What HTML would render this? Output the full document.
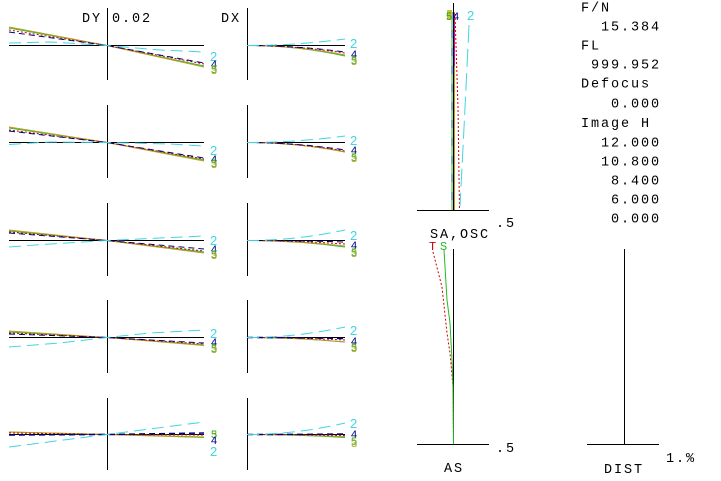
<!DOCTYPE html>
<html>
<head>
<meta charset="utf-8">
<style>
html,body{margin:0;padding:0;background:#fff;}
svg{display:block;}
.t{font-family:"Liberation Mono",monospace;font-size:13.5px;letter-spacing:1.9px;fill:#000;}
.n{font-family:"Liberation Sans",sans-serif;}
</style>
</head>
<body>
<svg width="721" height="481" viewBox="0 0 721 481" xmlns="http://www.w3.org/2000/svg">
<rect width="721" height="481" fill="#fff"/>

<g stroke="#000" stroke-width="1" shape-rendering="crispEdges">
  <line x1="107.5" y1="8" x2="107.5" y2="80"/>
  <line x1="9" y1="45.5" x2="204" y2="45.5"/>
  <line x1="247.5" y1="8" x2="247.5" y2="80"/>
  <line x1="247" y1="45.5" x2="345" y2="45.5"/>

  <line x1="107.5" y1="105" x2="107.5" y2="178"/>
  <line x1="9" y1="142.5" x2="204" y2="142.5"/>
  <line x1="247.5" y1="105" x2="247.5" y2="178"/>
  <line x1="247" y1="142.5" x2="345" y2="142.5"/>

  <line x1="107.5" y1="203" x2="107.5" y2="276"/>
  <line x1="9" y1="240.5" x2="204" y2="240.5"/>
  <line x1="247.5" y1="203" x2="247.5" y2="276"/>
  <line x1="247" y1="240.5" x2="345" y2="240.5"/>

  <line x1="107.5" y1="300" x2="107.5" y2="373"/>
  <line x1="9" y1="337.5" x2="204" y2="337.5"/>
  <line x1="247.5" y1="300" x2="247.5" y2="373"/>
  <line x1="247" y1="337.5" x2="345" y2="337.5"/>

  <line x1="107.5" y1="398" x2="107.5" y2="470"/>
  <line x1="9" y1="434.5" x2="204" y2="434.5"/>
  <line x1="247.5" y1="398" x2="247.5" y2="470"/>
  <line x1="247" y1="434.5" x2="345" y2="434.5"/>

  <line x1="453.5" y1="3" x2="453.5" y2="210"/>
  <line x1="417" y1="210.5" x2="489" y2="210.5"/>
  <line x1="453.5" y1="249" x2="453.5" y2="444"/>
  <line x1="417" y1="444.5" x2="489" y2="444.5"/>
  <line x1="624.5" y1="249" x2="624.5" y2="444"/>
  <line x1="587" y1="444.5" x2="659" y2="444.5"/>
</g>

<g fill="none" stroke-width="1">
  <polyline points="9,28 107,45.5 204,66" stroke="#33bb33"/>
  <polyline points="9,27 107,45.5 204,67" stroke="#b89a20"/>
  <polyline points="9,30 107,45.5 204,64" stroke="#cc0000" stroke-dasharray="2,2"/>
  <polyline points="9,32 107,45.5 204,63" stroke="#000080" stroke-dasharray="6,4"/>
  <polyline points="9,43 50,42 107,45.5 160,50 204,52" stroke="#3fd6e3" stroke-dasharray="12,6"/>

  <polyline points="9,128 107,142.5 204,160" stroke="#33bb33"/>
  <polyline points="9,127 107,142.5 204,161" stroke="#b89a20"/>
  <polyline points="9,130 107,142.5 204,159" stroke="#cc0000" stroke-dasharray="2,2"/>
  <polyline points="9,131 107,142.5 204,158" stroke="#000080" stroke-dasharray="6,4"/>
  <polyline points="9,144.5 50,142 107,142.5 170,144 204,146" stroke="#3fd6e3" stroke-dasharray="12,6"/>

  <polyline points="9,231 107,240.5 204,252" stroke="#33bb33"/>
  <polyline points="9,230 107,240.5 204,253" stroke="#b89a20"/>
  <polyline points="9,232 107,240.5 204,251" stroke="#cc0000" stroke-dasharray="2,2"/>
  <polyline points="9,233 107,240.5 204,249" stroke="#000080" stroke-dasharray="6,4"/>
  <polyline points="9,247 50,244 107,240.5 160,238 204,236" stroke="#3fd6e3" stroke-dasharray="12,6"/>

  <polyline points="9,332 107,337.5 204,345" stroke="#33bb33"/>
  <polyline points="9,331 107,337.5 204,345.5" stroke="#b89a20"/>
  <polyline points="9,333 107,337.5 204,344" stroke="#cc0000" stroke-dasharray="2,2"/>
  <polyline points="9,334 107,337.5 204,343" stroke="#000080" stroke-dasharray="6,4"/>
  <polyline points="9,347 60,343 107,337.5 150,333 204,330" stroke="#3fd6e3" stroke-dasharray="12,6"/>

  <polyline points="9,432 107,434.5 204,437" stroke="#33bb33"/>
  <polyline points="9,432 107,434.5 204,437.5" stroke="#b89a20"/>
  <polyline points="9,433 107,434.5 204,435" stroke="#cc0000" stroke-dasharray="2,2"/>
  <polyline points="9,435 107,434.5 204,433" stroke="#000080" stroke-dasharray="6,4" stroke-width="1.5"/>
  <polyline points="9,447 107,434.5 204,422" stroke="#3fd6e3" stroke-dasharray="12,6"/>
</g>

<g fill="none" stroke-width="1">
  <path d="M247,45.5 Q296,45.5 345,56" stroke="#33bb33"/>
  <path d="M247,45.5 Q296,45.5 345,55" stroke="#b89a20"/>
  <path d="M247,45.5 Q296,45.5 345,53" stroke="#cc0000" stroke-dasharray="2,2"/>
  <path d="M247,45.5 Q296,45.5 345,52" stroke="#000080" stroke-dasharray="6,4"/>
  <path d="M247,45.5 Q296,45.5 345,39" stroke="#3fd6e3" stroke-dasharray="12,6"/>

  <path d="M247,142.5 Q296,142.5 345,152" stroke="#33bb33"/>
  <path d="M247,142.5 Q296,142.5 345,152" stroke="#b89a20"/>
  <path d="M247,142.5 Q296,142.5 345,151" stroke="#cc0000" stroke-dasharray="2,2"/>
  <path d="M247,142.5 Q296,142.5 345,150" stroke="#000080" stroke-dasharray="6,4"/>
  <path d="M247,142.5 Q296,142.5 345,136" stroke="#3fd6e3" stroke-dasharray="12,6"/>

  <path d="M247,240.5 Q296,240.5 345,247" stroke="#33bb33"/>
  <path d="M247,240.5 Q296,240.5 345,246" stroke="#b89a20"/>
  <path d="M247,240.5 Q296,240.5 345,244" stroke="#cc0000" stroke-dasharray="2,2"/>
  <path d="M247,240.5 Q296,240.5 345,242" stroke="#000080" stroke-dasharray="6,4"/>
  <path d="M247,240.5 Q296,240.5 345,230" stroke="#3fd6e3" stroke-dasharray="12,6"/>

  <path d="M247,337.5 Q296,337.5 345,342" stroke="#33bb33"/>
  <path d="M247,337.5 Q296,337.5 345,342" stroke="#b89a20"/>
  <path d="M247,337.5 Q296,337.5 345,340" stroke="#cc0000" stroke-dasharray="2,2"/>
  <path d="M247,337.5 Q296,337.5 345,338.5" stroke="#000080" stroke-dasharray="6,4" stroke-width="1.5"/>
  <path d="M247,337.5 Q296,337.5 345,327" stroke="#3fd6e3" stroke-dasharray="12,6"/>

  <path d="M247,434.5 Q296,434.5 345,437.5" stroke="#33bb33"/>
  <path d="M247,434.5 Q296,434.5 345,436.5" stroke="#b89a20"/>
  <path d="M247,434.5 Q296,434.5 345,435.5" stroke="#cc0000" stroke-dasharray="2,2"/>
  <path d="M247,434.5 Q296,434.5 345,434" stroke="#000080" stroke-dasharray="6,4" stroke-width="1.5"/>
  <path d="M247,434.5 Q296,434.5 345,423" stroke="#3fd6e3" stroke-dasharray="12,6"/>
</g>

<g fill="none" stroke-width="1">
  <line x1="452" y1="12" x2="452" y2="210" stroke="#33bb33"/>
  <line x1="452" y1="12" x2="452" y2="210" stroke="#006060" stroke-dasharray="8,10"/>
  <line x1="454.5" y1="12" x2="454.5" y2="210" stroke="#d09030"/>
  <path d="M455,14 L458,107 L459.5,210" stroke="#cc0000" stroke-dasharray="2,2"/>
  <line x1="454.5" y1="13" x2="454.5" y2="66" stroke="#d01090"/>
  <line x1="453.5" y1="14" x2="453.5" y2="75" stroke="#000080" stroke-dasharray="5,4"/>
  <path d="M469,25 Q465,110 460,206" stroke="#3fd6e3" stroke-dasharray="18,6"/>
</g>

<g fill="none" stroke-width="1">
  <polyline points="433,252 442,287 447,333 450,353 453,387 453.5,444" stroke="#cc0000" stroke-dasharray="2,2"/>
  <polyline points="444,250 447,300 450,323 452,360 453,387 453.5,444" stroke="#22bb22"/>
</g>

<g class="t">
  <text x="82" y="22">DY</text>
  <text x="112" y="22">0.02</text>
  <text x="221" y="22">DX</text>
  <text x="430" y="238">SA,OSC</text>
  <text x="496" y="227">.5</text>
  <text x="496" y="452">.5</text>
  <text x="444" y="472">AS</text>
  <text x="604" y="473">DIST</text>
  <text x="666" y="462">1.%</text>

  <text x="581" y="11.5">F/N</text>
  <text x="601" y="30.5">15.384</text>
  <text x="581" y="49.5">FL</text>
  <text x="591" y="68.5">999.952</text>
  <text x="581" y="87.5">Defocus</text>
  <text x="611" y="107.5">0.000</text>
  <text x="581" y="127">Image H</text>
  <text x="601" y="146.5">12.000</text>
  <text x="601" y="165.5">10.800</text>
  <text x="611" y="184.5">8.400</text>
  <text x="611" y="203.5">6.000</text>
  <text x="611" y="222.5">0.000</text>
</g>

<text x="429" y="250" font-family="Liberation Mono, monospace" font-size="12" fill="#cc0000">T</text>
<text x="440" y="250" font-family="Liberation Mono, monospace" font-size="12" fill="#22bb22">S</text>

<rect x="447" y="10" width="5" height="10" fill="#c8c040"/>
<text class="n" x="446" y="20" font-size="11" fill="#22aa22">5</text>
<text class="n" x="453" y="20" font-size="11" fill="#000080">4</text>
<text class="n" x="467" y="20" font-size="13" fill="#3fd6e3">2</text>

<g class="n">
  <text x="210" y="61" font-size="13" fill="#3fd6e3">2</text>
  <text x="211" y="68" font-size="11" fill="#000080">4</text>
  <text x="211" y="73" font-size="11" fill="#22bb22">5</text>
  <text x="211" y="74" font-size="11" fill="#b89a20">3</text>

  <text x="210" y="155" font-size="13" fill="#3fd6e3">2</text>
  <text x="211" y="163" font-size="11" fill="#000080">4</text>
  <text x="211" y="167" font-size="11" fill="#22bb22">5</text>
  <text x="211" y="168" font-size="11" fill="#b89a20">3</text>

  <text x="210" y="245" font-size="13" fill="#3fd6e3">2</text>
  <text x="211" y="253" font-size="11" fill="#000080">4</text>
  <text x="211" y="258" font-size="11" fill="#22bb22">5</text>
  <text x="211" y="259" font-size="11" fill="#b89a20">3</text>

  <text x="210" y="338" font-size="13" fill="#3fd6e3">2</text>
  <text x="211" y="346" font-size="11" fill="#000080">4</text>
  <text x="211" y="352" font-size="11" fill="#22bb22">5</text>
  <text x="211" y="353" font-size="11" fill="#b89a20">3</text>

  <text x="211" y="438" font-size="11" fill="#b89a20">3</text>
  <text x="211" y="438" font-size="11" fill="#22bb22">5</text>
  <text x="211" y="444" font-size="11" fill="#000080">4</text>
  <text x="210" y="456" font-size="13" fill="#3fd6e3">2</text>
</g>

<g class="n">
  <text x="350" y="48" font-size="13" fill="#3fd6e3">2</text>
  <text x="351" y="58" font-size="11" fill="#000080">4</text>
  <text x="351" y="64" font-size="11" fill="#22bb22">5</text>
  <text x="351" y="65" font-size="11" fill="#b89a20">3</text>

  <text x="350" y="145" font-size="13" fill="#3fd6e3">2</text>
  <text x="351" y="154" font-size="11" fill="#000080">4</text>
  <text x="351" y="161" font-size="11" fill="#22bb22">5</text>
  <text x="351" y="162" font-size="11" fill="#b89a20">3</text>

  <text x="350" y="240" font-size="13" fill="#3fd6e3">2</text>
  <text x="351" y="249" font-size="11" fill="#000080">4</text>
  <text x="351" y="256" font-size="11" fill="#22bb22">5</text>
  <text x="351" y="257" font-size="11" fill="#b89a20">3</text>

  <text x="350" y="335" font-size="13" fill="#3fd6e3">2</text>
  <text x="351" y="345" font-size="11" fill="#000080">4</text>
  <text x="351" y="351" font-size="11" fill="#22bb22">5</text>
  <text x="351" y="352" font-size="11" fill="#b89a20">3</text>

  <text x="350" y="428" font-size="13" fill="#3fd6e3">2</text>
  <text x="351" y="438" font-size="11" fill="#000080">4</text>
  <text x="351" y="445" font-size="11" fill="#22bb22">5</text>
  <text x="351" y="447" font-size="11" fill="#b89a20">3</text>
</g>
</svg>
</body>
</html>
